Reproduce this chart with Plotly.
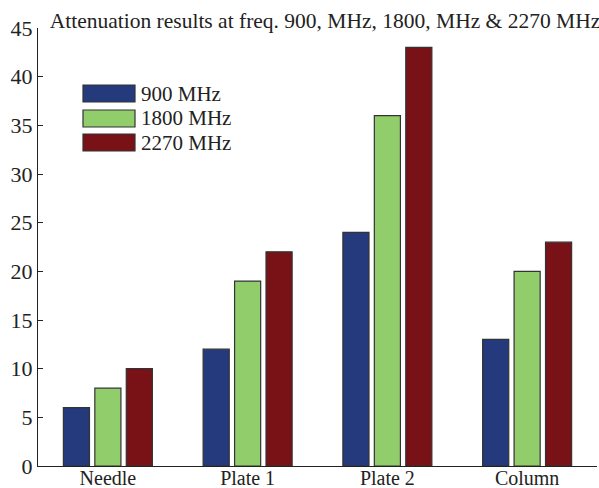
import plotly.graph_objects as go

# Antenna sites and measured attenuation per frequency band
categories = ["Needle", "Plate 1", "Plate 2", "Column"]
series_names = ["900 MHz", "1800 MHz", "2270 MHz"]
att_900 = [6, 12, 24, 13]
att_1800 = [8, 19, 36, 20]
att_2270 = [10, 22, 43, 23]
y_ticks = [0, 5, 10, 15, 20, 25, 30, 35, 40, 45]

colors = ["#253a7c", "#92cd6b", "#781217"]
serif = "Liberation Serif, Times New Roman, serif"

fig = go.Figure()
for name, vals, col in zip(series_names, [att_900, att_1800, att_2270], colors):
    fig.add_trace(go.Bar(
        x=list(range(1, len(categories) + 1)), y=vals, name=name,
        marker=dict(color=col, line=dict(color="#333333", width=1.2)),
        showlegend=False,
    ))

# Legend drawn as large swatches with labels
sw_x0, sw_x1 = 83, 135
sw_top = [85, 110, 134]
sw_h = 17
for name, col, top in zip(series_names, colors, sw_top):
    fig.add_shape(type="rect", xref="paper", yref="paper",
                  x0=(sw_x0 - 38) / 559, x1=(sw_x1 - 38) / 559,
                  y0=1 - (top + sw_h - 28) / 438, y1=1 - (top - 28) / 438,
                  fillcolor=col, line=dict(color="#333333", width=1.2))
    fig.add_annotation(xref="paper", yref="paper",
                       x=(139 - 38) / 559, y=1 - (top + sw_h / 2 - 28) / 438,
                       text=name, showarrow=False, xanchor="left", yanchor="middle",
                       font=dict(family=serif, size=21, color="#222222"))

fig.update_layout(
    width=599, height=488,
    margin=dict(l=38, r=2, t=28, b=22),
    paper_bgcolor="white", plot_bgcolor="white",
    barmode="group", bargap=0.325, bargroupgap=0.17,
    title=dict(text="Attenuation results at freq. 900, MHz, 1800, MHz & 2270 MHz",
               x=(325) / 599, xanchor="center", y=1 - 20 / 488, yanchor="middle",
               font=dict(family=serif, size=21.5, color="#222222")),
    font=dict(family=serif, color="#222222"),
    xaxis=dict(range=[0.5, 4.5], tickvals=[1, 2, 3, 4], ticktext=categories,
               showline=True, linecolor="#222222", linewidth=1.2, ticks="",
               showgrid=False, zeroline=False, tickfont=dict(size=20),
               ticklabelstandoff=-6, automargin=False),
    yaxis=dict(range=[0, 45], tickvals=y_ticks, showline=True, linecolor="#222222",
               linewidth=1.2, ticks="inside", ticklen=5, tickcolor="#222222",
               showgrid=False, zeroline=False, tickfont=dict(size=22),
               automargin=False),
)

fig.write_html("out.html")
